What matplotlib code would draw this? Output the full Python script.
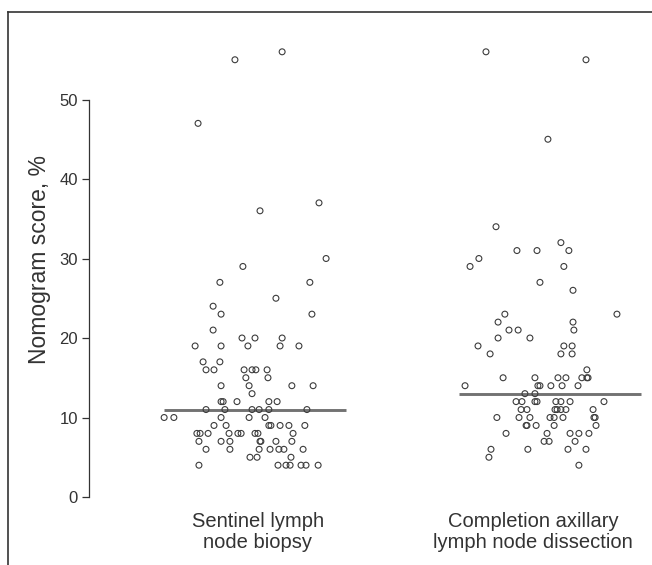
import numpy as np
import matplotlib
matplotlib.use("Agg")
import matplotlib.pyplot as plt
from matplotlib.lines import Line2D

plt.rcParams['font.family'] = ['Liberation Sans', 'DejaVu Sans']

categories = ["Sentinel lymph\nnode biopsy", "Completion axillary\nlymph node dissection"]

sln_values = [56, 55, 47, 37, 36, 30, 29, 27, 27, 25, 24, 23, 23, 21,
              20, 20, 20, 19, 19, 19, 19, 19, 17, 17,
              16, 16, 16, 16, 16, 16, 15, 15, 14, 14, 14, 14, 13,
              12, 12, 12, 12, 12, 11, 11, 11, 11, 11, 11,
              10, 10, 10, 10, 10, 9, 9, 9, 9, 9, 9, 9,
              8, 8, 8, 8, 8, 8, 8, 8, 8, 7, 7, 7, 7, 7, 7, 7,
              6, 6, 6, 6, 6, 6, 6, 5, 5, 5, 4, 4, 4, 4, 4, 4, 4]
sln_jitter = [0.092, -0.068, -0.193, 0.217, 0.017, 0.241, -0.041, -0.119, 0.186, 0.071, -0.142, -0.115, 0.193, -0.142,
              -0.044, 0.0, 0.092, -0.203, -0.115, -0.024, 0.085, 0.149, -0.176, -0.119,
              -0.166, -0.139, -0.037, -0.010, 0.003, 0.041, -0.031, 0.044, -0.115, -0.020, 0.125, 0.197, -0.010,
              -0.115, -0.108, -0.061, 0.047, 0.075, -0.166, -0.102, -0.010, 0.014, 0.047, 0.176,
              -0.308, -0.275, -0.115, -0.020, 0.034, -0.139, -0.098, 0.047, 0.054, 0.085, 0.115, 0.169,
              -0.197, -0.186, -0.159, -0.088, -0.058, -0.047, 0.0, 0.010, 0.129,
              -0.190, -0.115, -0.085, 0.017, 0.020, 0.071, 0.125,
              -0.166, -0.085, 0.014, 0.051, 0.081, 0.098, 0.163, -0.017, 0.007, 0.122,
              -0.190, 0.078, 0.105, 0.119, 0.156, 0.173, 0.214]

alnd_values = [56, 55, 45, 34, 32, 31, 31, 31, 30, 29, 29, 27, 26, 23, 23, 22, 22,
               21, 21, 21, 20, 20, 19, 19, 19, 18, 18, 18, 16,
               15, 15, 15, 15, 15, 15, 15, 14, 14, 14, 14, 14, 14, 13, 13,
               12, 12, 12, 12, 12, 12, 12, 12, 11, 11, 11, 11, 11, 11, 11,
               10, 10, 10, 10, 10, 10, 10, 10, 9, 9, 9, 9, 9,
               8, 8, 8, 8, 8, 7, 7, 7, 6, 6, 6, 6, 5, 4]
alnd_jitter = [-0.217, 0.122, -0.007, -0.183, 0.037, -0.112, -0.044, 0.064, -0.241, -0.271, 0.047, -0.034, 0.078,
               -0.153, 0.227, -0.176, 0.078,
               -0.139, -0.108, 0.081, -0.176, -0.068, -0.244, 0.047, 0.075, -0.203, 0.037, 0.075, 0.125,
               -0.159, -0.051, 0.027, 0.054, 0.108, 0.125, 0.129, -0.288, -0.041, -0.034, 0.003, 0.041, 0.095,
               -0.085, -0.051,
               -0.115, -0.095, -0.051, -0.044, 0.020, 0.037, 0.068, 0.183,
               -0.098, -0.078, 0.017, 0.024, 0.037, 0.054, 0.146,
               -0.180, -0.105, -0.068, 0.0, 0.014, 0.044, 0.149, 0.153,
               -0.081, -0.078, -0.047, 0.014, 0.156,
               -0.149, -0.010, 0.068, 0.098, 0.132, -0.020, -0.003, 0.085,
               -0.200, -0.075, 0.061, 0.122, -0.207, 0.098]

y_ticks = [0, 10, 20, 30, 40, 50]

W, H = 652, 565
fig = plt.figure(figsize=(W / 100, H / 100), dpi=100)
ax = fig.add_axes([89 / W, (H - 505) / H, (W - 89) / W, 490 / H])

groups = [(sln_values, sln_jitter), (alnd_values, alnd_jitter)]
for i, (vals, jit) in enumerate(groups):
    vals = np.array(vals, dtype=float)
    xs = i + np.array(jit)
    med = np.median(vals)
    ax.hlines(med, i - 0.31, i + 0.31, color='#727272', linewidth=2.1, zorder=2)
    ax.scatter(xs, vals, s=18, facecolors='none', edgecolors='#3c3c3c', linewidths=0.8, zorder=3)

ax.set_xlim(-0.5627, 1.3458)
ax.set_ylim(-1.006, 60.63)
for s in ['top', 'right', 'bottom']:
    ax.spines[s].set_visible(False)
ax.spines['left'].set_bounds(0, 50)
ax.spines['left'].set_color('#333333')
ax.spines['left'].set_linewidth(0.9)
ax.set_yticks(y_ticks)
ax.set_yticklabels([str(t) for t in y_ticks])
ax.tick_params(axis='y', length=5, width=0.9, color='#333333', labelsize=12, labelcolor='#333333', pad=3)
ax.set_xticks([])

label_x = [0.01, 0.942]
for lx, lab in zip(label_x, categories):
    ax.text(lx, -1.9, lab, ha='center', va='top', fontsize=14.5, color='#333333',
            linespacing=1.12, clip_on=False)

ax.set_ylabel('Nomogram score, %', fontsize=16.5, color='#333333', labelpad=6)

fig.add_artist(Line2D([8 / W, 8 / W], [1 - 12 / H, 0], transform=fig.transFigure, color='#333333', linewidth=1.2))
fig.add_artist(Line2D([8 / W, 1], [1 - 12 / H, 1 - 12 / H], transform=fig.transFigure, color='#333333', linewidth=1.2))

fig.savefig('out.png', dpi=100)
